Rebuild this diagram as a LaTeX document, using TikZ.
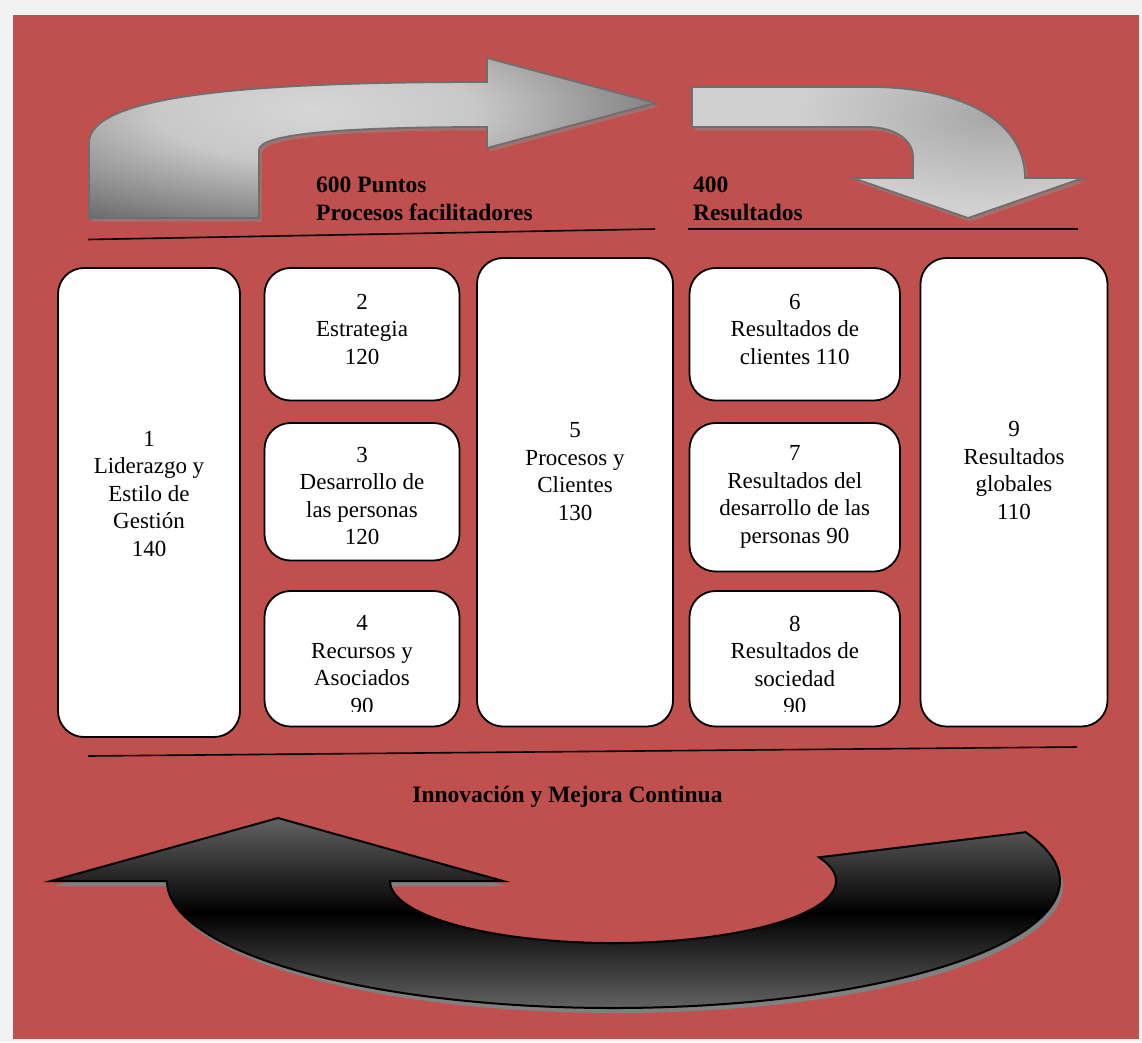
\documentclass[tikz,border=0pt]{standalone}
\usepackage{fontspec}
\setmainfont{Liberation Serif}
\usetikzlibrary{shadings}
\definecolor{bgred}{HTML}{C0504D}
\definecolor{pagegray}{HTML}{F2F2F2}
\definecolor{arrline}{HTML}{6E6E6E}
\definecolor{tlA}{HTML}{D6D6D6}
\definecolor{tlB}{HTML}{C8C8C8}
\definecolor{tlC}{HTML}{6C6C6C}
\definecolor{trA}{HTML}{A6A6A6}
\definecolor{trB}{HTML}{BCBCBC}
\definecolor{trC}{HTML}{D0D0D0}
\definecolor{blgray}{HTML}{626262}
\pgfdeclareradialshading{tlshade}{\pgfpoint{0bp}{0bp}}{color(0bp)=(tlA); color(10bp)=(tlB); color(25bp)=(tlC); color(100bp)=(tlC)}
\pgfdeclareradialshading{trshade}{\pgfpoint{0bp}{0bp}}{color(0bp)=(trA); color(12.5bp)=(trB); color(25bp)=(trC); color(100bp)=(trC)}
\begin{document}
\begin{tikzpicture}[x=1pt,y=-1pt,
  box/.style={draw=black,line width=1.8pt,fill=white,rounded corners=26pt,inner sep=0pt},
  lbl/.style={align=center,inner sep=0pt,font=\fontsize{23}{27.5}\selectfont},
  hdr/.style={align=left,inner sep=0pt,anchor=north west,font=\fontsize{23.5}{27.5}\selectfont\bfseries},
  rule/.style={line width=1.6pt,black},
  lshadow/.style={fill=black!45,opacity=0.55},
  dshadow/.style={fill=black!50},
  lightarrow/.style={draw=arrline,line width=1.8pt,line join=miter}
]
\useasboundingbox (0,0) rectangle (1142,1042);
\fill[pagegray] (0,0) rectangle (1142,1042);
\fill[bgred] (13,15) rectangle (1139,1039);

% ---------- top-left arrow ----------
\def\tlarrow{(89,218) -- (89,143) .. controls (89,95) and (250,82) .. (487,82) -- (487,58) -- (656,103) -- (487,148) -- (487,127) .. controls (330,127) and (259,135) .. (259,150) -- (259,218) -- cycle}
\path[lshadow,shift={(2.5,3.5)}] \tlarrow;
\begin{scope}
\clip \tlarrow;
\fill[tlC] (80,50) rectangle (670,230);
\shade[shading=tlshade] (-85,-20) rectangle (715,240);
\end{scope}
\path[lightarrow] \tlarrow;

% ---------- top-right arrow ----------
\def\trarrow{(692,87) -- (870,87) .. controls (960,87) and (1025,120) .. (1025,178) -- (1083,178) -- (968,218) -- (853,178) -- (913,178) -- (913,157) .. controls (913,140) and (895,127) .. (867,127) -- (692,127) -- cycle}
\path[lshadow,shift={(2.5,3.5)}] \trarrow;
\begin{scope}
\clip \trarrow;
\fill[trC] (680,80) rectangle (1090,225);
\shade[shading=trshade] (795,25) rectangle (1195,205);
\end{scope}
\path[lightarrow] \trarrow;

% ---------- headers ----------
\node[hdr] (h1) at (316,177) {600 Puntos\\Procesos facilitadores};
\node[hdr] (h2) at (693,177) {400\\Resultados};
\coordinate (l1a) at (88,239.5);
\coordinate (l1b) at (655,229);
\coordinate (l2a) at (688,229);
\coordinate (l2b) at (1078,229);
\draw[rule] (l1a) -- (l1b);
\draw[rule] (l2a) -- (l2b);

% ---------- boxes ----------
\node[box,minimum width=182pt,minimum height=469pt] (b1) at (149,502.5) {};
\node[box,minimum width=195pt,minimum height=132.5pt] (b2) at (362,334.25) {};
\node[box,minimum width=195pt,minimum height=137.5pt] (b3) at (362,491.75) {};
\node[box,minimum width=195pt,minimum height=135.5pt] (b4) at (362,658.75) {};
\node[box,minimum width=196pt,minimum height=468.5pt] (b5) at (575,492.25) {};
\node[box,minimum width=210.5pt,minimum height=132.5pt] (b6) at (794.75,334.25) {};
\node[box,minimum width=210.5pt,minimum height=148.5pt] (b7) at (794.75,497.25) {};
\node[box,minimum width=210.5pt,minimum height=135.5pt] (b8) at (794.75,658.75) {};
\node[box,minimum width=187pt,minimum height=468.5pt] (b9) at (1014,492.25) {};

\node[lbl] (t1) at (149,494) {1\\Liderazgo y\\Estilo de\\Gestión\\140};
\node[lbl] (t2) at (362,329) {2\\Estrategia\\120};
\node[lbl] (t3) at (362,496) {3\\Desarrollo de\\las personas\\120};
\begin{scope}
\clip (250,585) rectangle (470,711.5);
\node[lbl] (t4) at (362,664.5) {4\\Recursos y\\Asociados\\90};
\end{scope}
\node[lbl] (t5) at (575,471.5) {5\\Procesos y\\Clientes\\130};
\node[lbl] (t6) at (794.75,329) {6\\Resultados de\\clientes 110};
\node[lbl] (t7) at (794.75,497) {7\\Resultados del\\desarrollo de las\\personas 90};
\begin{scope}
\clip (680,585) rectangle (910,711.5);
\node[lbl] (t8) at (794.75,665) {8\\Resultados de\\sociedad\\90};
\end{scope}
\node[lbl] (t9) at (1014,470.5) {9\\Resultados\\globales\\110};

% ---------- bottom rule and label ----------
\coordinate (l3a) at (88,756);
\coordinate (l3b) at (1077,747);
\draw[rule] (l3a) -- (l3b);
\node[inner sep=0pt,anchor=base,font=\fontsize{23.5}{27.5}\selectfont\bfseries] (inn) at (567.5,802) {Innovación y Mejora Continua};

% ---------- bottom arrow ----------
\path[dshadow,shift={(3,5)}] (167,881) arc[start angle=180,end angle=-22.6,x radius=446.5,y radius=127] -- (819.0,857.3) arc[start angle=-22.5,end angle=180,x radius=223,y radius=62] -- (503,881) -- (278,818) -- (51,881) -- cycle;
\path[draw=black,line width=2pt,line join=miter,top color=blgray,bottom color=blgray,middle color=black] (167,881) arc[start angle=180,end angle=-22.6,x radius=446.5,y radius=127] -- (819.0,857.3) arc[start angle=-22.5,end angle=180,x radius=223,y radius=62] -- (503,881) -- (278,818) -- (51,881) -- cycle;
\end{tikzpicture}
\end{document}
